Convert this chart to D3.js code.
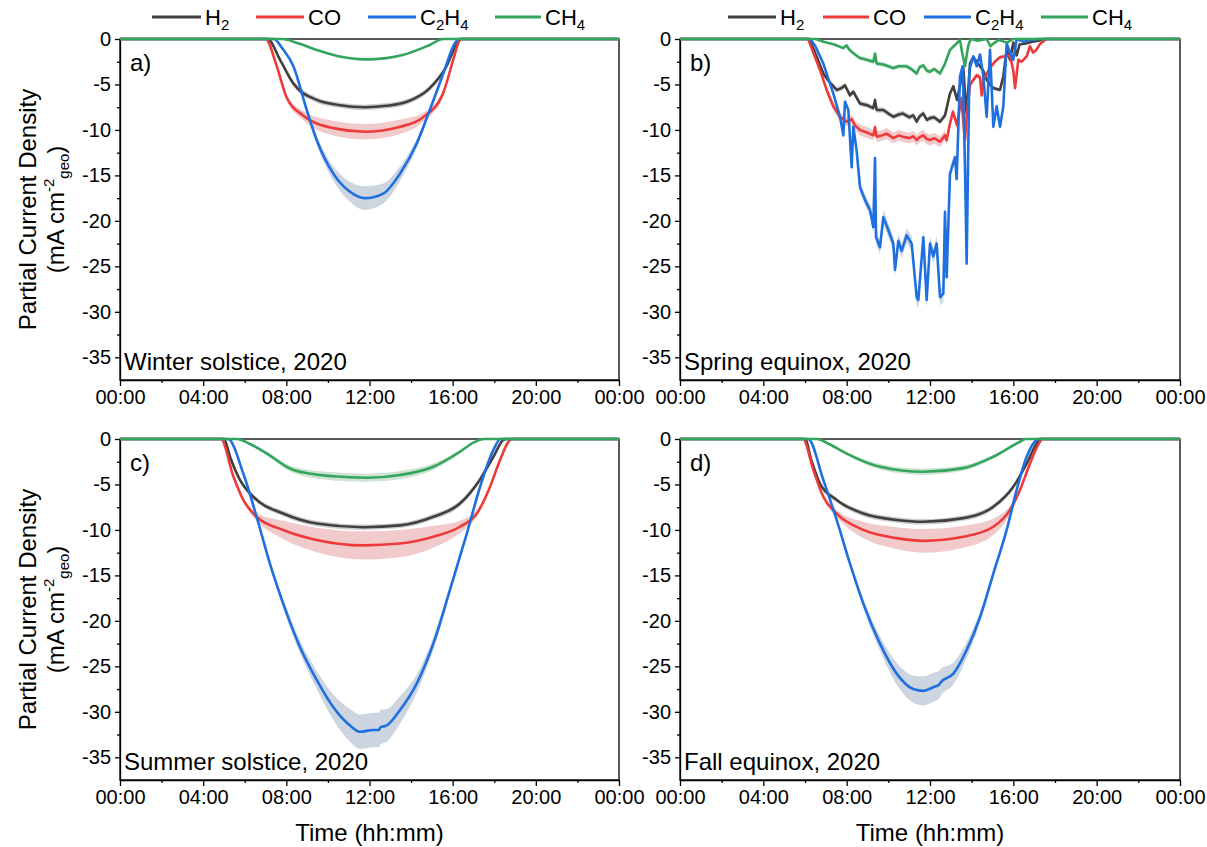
<!DOCTYPE html>
<html><head><meta charset="utf-8">
<script src="https://cdnjs.cloudflare.com/ajax/libs/d3/7.8.5/d3.min.js"></script>
<style>body{margin:0;background:#fff}svg{display:block;font-family:Arial,"Liberation Sans",sans-serif}</style>
</head><body><svg id="c" width="1207" height="847"></svg>
<script>
// ---------- DATA: [hour, mean (mA cm-2), sd] ----------
const species = ["H2","CO","C2H4","CH4"];
const xTickHours = [0,4,8,12,16,20,24];
const xTickLabels = ["00:00","04:00","08:00","12:00","16:00","20:00","00:00"];
const xMinorHours = [2,6,10,14,18,22];
const yTicks = [0,-5,-10,-15,-20,-25,-30,-35];
const yMinor = [-2.5,-7.5,-12.5,-17.5,-22.5,-27.5,-32.5];
const panelLetters = ["a)","b)","c)","d)"];
const panelTitles = ["Winter solstice, 2020","Spring equinox, 2020","Summer solstice, 2020","Fall equinox, 2020"];

// a) Winter solstice
const a_H2 = [[0,0,0],[7.1,0,0],[7.7,-2.3,0.15],[8.34,-4.9,0.3],[9.46,-6.7,0.3],[10.5,-7.25,0.3],[11.8,-7.5,0.3],[12.8,-7.35,0.3],[13.8,-6.9,0.3],[14.9,-5.4,0.3],[15.7,-3.0,0.2],[16.2,-0.5,0.1],[16.35,0,0],[24,0,0]];
const a_CO = [[0,0,0],[7.0,0,0],[7.54,-3.0,0.2],[8.0,-6.35,0.3],[8.8,-8.4,0.5],[10.26,-9.8,0.8],[11.78,-10.2,0.85],[13.47,-9.65,0.8],[14.58,-8.6,0.5],[15.55,-5.9,0.3],[16.0,-2.5,0.15],[16.3,-0.3,0.05],[16.4,0,0],[24,0,0]];
const a_C2H4 = [[0,0,0],[7.4,0,0],[7.8,-1.0,0.1],[8.34,-3.0,0.2],[8.98,-7.8,0.3],[9.46,-11.1,0.5],[10.26,-14.8,0.8],[11.06,-16.8,1.1],[11.78,-17.5,1.3],[12.66,-17.0,1.1],[13.47,-14.8,0.8],[14.27,-11.5,0.5],[14.9,-7.8,0.3],[15.55,-3.8,0.2],[16.1,-0.5,0.05],[16.3,0,0],[24,0,0]];
const a_CH4 = [[0,0,0],[7.8,0,0],[8.6,-0.5,0.05],[9.46,-1.2,0.1],[10.5,-1.9,0.12],[11.78,-2.24,0.12],[12.8,-2.1,0.12],[13.6,-1.76,0.1],[14.9,-0.66,0.05],[15.55,0,0],[24,0,0]];

// b) Spring equinox
const b_H2 = [[0,0,0],[6.2,0,0],[6.5,-1.6,0.2],[6.88,-3.8,0.3],[7.2,-4.8,0.3],[7.52,-5.6,0.3],[7.75,-5.4,0.3],[7.92,-5.1,0.3],[8.16,-6.2,0.3],[8.32,-5.8,0.3],[8.64,-7.1,0.3],[9.0,-7.3,0.3],[9.28,-7.6,0.3],[9.36,-6.7,0.3],[9.44,-7.8,0.3],[9.76,-7.8,0.3],[10.0,-8.2,0.3],[10.24,-8.55,0.3],[10.5,-8.3,0.3],[10.7,-8.2,0.3],[11.0,-8.6,0.3],[11.2,-8.4,0.3],[11.36,-9.1,0.3],[11.5,-8.5,0.3],[11.68,-8.2,0.3],[11.85,-8.9,0.3],[12.0,-8.7,0.3],[12.2,-8.6,0.3],[12.48,-9.1,0.3],[12.72,-8.4,0.3],[12.96,-6.0,0.3],[13.12,-5.2,0.3],[13.3,-6.7,0.3],[13.45,-5.0,0.3],[13.6,-3.2,0.2],[13.68,-6.0,0.3],[13.76,-8.2,0.3],[13.92,-2.7,0.2],[14.08,-2.0,0.2],[14.24,-2.5,0.2],[14.4,-3.0,0.2],[14.56,-3.5,0.2],[14.72,-4.5,0.2],[14.88,-5.0,0.2],[15.04,-5.4,0.2],[15.2,-5.5,0.2],[15.36,-5.6,0.2],[15.52,-4.1,0.2],[15.68,-1.2,0.1],[15.84,-2.3,0.1],[16.0,-0.4,0.1],[16.16,-1.8,0.1],[16.3,-0.6,0.1],[16.6,-0.5,0.05],[16.9,-0.3,0.05],[17.2,-0.2,0],[17.5,0,0],[24,0,0]];
const b_CO = [[0,0,0],[6.15,0,0],[6.4,-1.5,0.2],[6.72,-3.4,0.3],[7.04,-5.6,0.4],[7.36,-7.4,0.5],[7.68,-8.55,0.5],[8.0,-9.1,0.5],[8.24,-8.8,0.5],[8.4,-9.5,0.5],[8.64,-10.0,0.6],[9.0,-10.3,0.6],[9.28,-10.6,0.6],[9.36,-9.7,0.6],[9.44,-10.75,0.6],[9.7,-10.6,0.6],[9.92,-10.4,0.6],[10.24,-10.9,0.6],[10.5,-10.6,0.6],[10.7,-10.75,0.6],[11.0,-10.9,0.6],[11.2,-10.7,0.6],[11.36,-11.1,0.6],[11.5,-10.8,0.6],[11.68,-10.6,0.6],[11.85,-11.0,0.6],[12.0,-11.1,0.6],[12.2,-10.9,0.6],[12.48,-11.3,0.6],[12.72,-10.6,0.6],[12.8,-11.1,0.5],[12.96,-9.3,0.4],[13.1,-8.0,0.4],[13.3,-9.5,0.4],[13.5,-6.5,0.3],[13.6,-9.0,0.3],[13.68,-11.1,0.3],[13.76,-8.5,0.3],[13.92,-5.0,0.3],[14.08,-4.5,0.3],[14.24,-4.0,0.3],[14.4,-4.2,0.3],[14.48,-6.2,0.3],[14.56,-4.5,0.3],[14.72,-3.8,0.3],[14.88,-3.2,0.2],[15.04,-2.7,0.2],[15.2,-2.3,0.2],[15.36,-2.0,0.2],[15.6,-1.9,0.2],[15.84,-1.8,0.2],[16.0,-3.5,0.2],[16.08,-5.4,0.2],[16.24,-2.3,0.2],[16.4,-2.5,0.2],[16.64,-1.9,0.1],[16.8,-0.8,0.1],[16.95,-1.5,0.1],[17.1,-1.2,0.1],[17.3,-0.5,0.05],[17.6,0,0],[24,0,0]];
const b_C2H4 = [[0,0,0],[6.25,0,0],[6.5,-0.8,0.1],[6.88,-2.7,0.2],[7.36,-6.0,0.3],[7.68,-8.55,0.4],[7.84,-10.6,0.4],[7.92,-6.9,0.4],[8.08,-7.8,0.4],[8.24,-14.1,0.5],[8.32,-9.65,0.5],[8.48,-12.3,0.5],[8.64,-16.3,0.6],[8.9,-17.8,0.6],[9.12,-18.8,0.7],[9.28,-20.7,0.7],[9.36,-13.1,0.7],[9.41,-21.8,0.8],[9.6,-22.9,0.8],[9.76,-19.6,0.8],[10.0,-21.0,0.8],[10.24,-22.5,0.8],[10.32,-25.4,0.8],[10.48,-22.2,0.8],[10.64,-23.3,0.8],[10.88,-21.6,0.8],[11.12,-22.5,0.8],[11.36,-28.4,0.9],[11.44,-28.7,0.9],[11.68,-21.8,0.8],[11.84,-28.7,0.9],[12.0,-22.5,0.8],[12.16,-23.9,0.8],[12.32,-22.5,0.8],[12.48,-28.4,0.9],[12.64,-28.0,0.9],[12.72,-19.0,0.7],[12.8,-26.2,0.8],[12.96,-14.8,0.6],[13.2,-13.0,0.5],[13.28,-15.4,0.5],[13.44,-4.1,0.3],[13.57,-3.0,0.3],[13.68,-14.1,0.5],[13.76,-24.7,0.7],[13.89,-3.4,0.3],[14.08,-1.9,0.2],[14.24,-3.0,0.2],[14.4,-1.7,0.2],[14.56,-4.1,0.3],[14.72,-8.55,0.4],[14.88,-1.2,0.2],[15.04,-9.65,0.4],[15.2,-7.4,0.4],[15.36,-9.65,0.4],[15.52,-7.4,0.3],[15.68,-0.5,0.1],[15.84,-1.5,0.1],[16.0,-2.3,0.1],[16.16,0,0],[16.5,-0.3,0],[16.8,-0.1,0],[17.2,0,0],[24,0,0]];
const b_CH4 = [[0,0,0],[6.5,0,0],[6.9,-0.3,0.05],[7.4,-0.6,0.1],[7.84,-1.0,0.15],[8.0,-0.7,0.15],[8.1,-1.1,0.15],[8.24,-1.4,0.2],[8.4,-1.7,0.2],[8.64,-2.1,0.2],[9.0,-2.3,0.25],[9.28,-2.5,0.25],[9.36,-1.6,0.25],[9.44,-2.7,0.25],[9.76,-2.8,0.25],[10.0,-3.0,0.25],[10.24,-3.2,0.25],[10.5,-3.0,0.25],[10.88,-3.0,0.25],[11.1,-3.3,0.25],[11.36,-3.8,0.25],[11.5,-3.1,0.25],[11.68,-2.9,0.25],[11.85,-3.5,0.25],[12.0,-3.6,0.25],[12.2,-3.3,0.25],[12.48,-3.8,0.25],[12.72,-2.7,0.2],[12.96,-1.2,0.15],[13.2,-0.66,0.1],[13.44,-0.1,0.05],[13.55,-1.6,0.1],[13.68,-3.0,0.15],[13.83,-0.8,0.1],[13.95,0,0],[14.3,-0.2,0],[14.72,0,0],[14.9,-0.8,0.05],[15.04,-0.5,0.05],[15.3,-0.1,0],[15.7,-0.4,0],[16.0,0,0],[24,0,0]];

// c) Summer solstice
const c_H2 = [[0,0,0],[5.0,0,0],[5.3,-2.0,0.1],[5.77,-4.5,0.2],[6.41,-6.35,0.25],[7.85,-8.2,0.3],[9.46,-9.3,0.3],[11.7,-9.7,0.3],[13.47,-9.5,0.3],[15.07,-8.55,0.3],[16.35,-7.1,0.3],[17.3,-4.5,0.25],[17.96,-1.95,0.15],[18.44,-0.1,0.05],[18.55,0,0],[24,0,0]];
const c_CO = [[0,0,0],[4.85,0,0],[5.45,-4.1,0.15],[5.93,-6.7,0.25],[6.57,-8.55,0.45],[7.85,-10.0,1.0],[9.46,-11.1,1.35],[11.7,-11.7,1.55],[13.47,-11.5,1.5],[15.07,-10.75,1.2],[16.35,-9.65,0.7],[17.16,-8.2,0.35],[17.8,-5.25,0.2],[18.28,-2.3,0.1],[18.76,-0.1,0],[18.85,0,0],[24,0,0]];
const c_C2H4 = [[0,0,0],[5.2,0,0],[5.93,-3.8,0.1],[6.57,-8.55,0.2],[7.21,-13.7,0.3],[7.85,-18.1,0.5],[8.66,-22.9,0.7],[9.46,-26.5,1.0],[10.26,-29.5,1.4],[11.06,-31.5,1.8],[11.54,-32.2,1.9],[12.18,-32.0,1.9],[12.45,-32.0,1.9],[12.52,-31.7,1.9],[12.83,-31.5,1.8],[13.47,-29.8,1.5],[14.27,-26.9,1.0],[15.07,-22.5,0.7],[15.87,-16.6,0.5],[16.68,-10.4,0.3],[17.32,-5.25,0.2],[17.96,-1.2,0.05],[18.3,0,0],[24,0,0]];
const c_CH4 = [[0,0,0],[5.6,0,0],[6.3,-0.6,0.1],[7.06,-1.6,0.2],[8.34,-3.4,0.35],[10.26,-4.1,0.45],[11.87,-4.26,0.45],[13.47,-3.96,0.45],[15.07,-3.05,0.35],[16.35,-1.4,0.2],[17.0,-0.4,0.05],[17.5,0,0],[24,0,0]];

// d) Fall equinox
const d_H2 = [[0,0,0],[6.0,0,0],[6.3,-2.3,0.1],[6.72,-4.9,0.2],[7.52,-6.7,0.25],[8.8,-8.2,0.3],[10.4,-8.9,0.3],[11.68,-9.1,0.3],[13.6,-8.7,0.3],[15.04,-7.45,0.3],[16.0,-5.25,0.25],[16.64,-2.7,0.15],[17.12,-0.5,0.05],[17.3,0,0],[24,0,0]];
const d_CO = [[0,0,0],[5.9,0,0],[6.4,-3.4,0.15],[6.88,-6.35,0.25],[7.52,-8.2,0.4],[8.8,-10.0,0.9],[10.4,-10.9,1.2],[11.68,-11.2,1.3],[13.6,-10.75,1.2],[15.04,-9.65,0.9],[15.84,-7.8,0.5],[16.32,-5.6,0.3],[16.8,-2.7,0.15],[17.28,-0.3,0],[17.4,0,0],[24,0,0]];
const d_C2H4 = [[0,0,0],[6.15,0,0],[6.88,-4.5,0.1],[7.52,-8.9,0.2],[8.16,-13.7,0.3],[8.8,-18.1,0.5],[9.6,-22.5,0.8],[10.4,-25.8,1.2],[11.2,-27.5,1.5],[11.68,-27.7,1.6],[12.16,-27.3,1.6],[12.45,-27.0,1.5],[12.5,-26.8,1.5],[13.12,-25.8,1.2],[13.76,-23.2,0.9],[14.4,-19.6,0.6],[15.04,-14.8,0.4],[15.68,-10.0,0.3],[16.16,-5.6,0.2],[16.64,-1.95,0.1],[17.12,-0.1,0],[17.2,0,0],[24,0,0]];
const d_CH4 = [[0,0,0],[6.55,0,0],[7.2,-0.6,0.05],[8.0,-1.6,0.15],[9.6,-3.05,0.3],[11.68,-3.6,0.35],[13.6,-3.2,0.3],[15.04,-1.95,0.2],[16.32,-0.3,0.05],[16.6,0,0],[24,0,0]];

// ---------- STYLE / LAYOUT ----------
const colors = {H2:"#404040",CO:"#ee3a3a",C2H4:"#1e6fdf",CH4:"#33a65c"};
const bandColors = {H2:"#b9b9b9",CO:"#f1cbcb",C2H4:"#cdd5e1",CH4:"#cfe2d4"};
const bandOpacity = {H2:0.7,CO:1,C2H4:1,CH4:1};
const FONT = "Arial, 'Liberation Sans', sans-serif";

const svg = d3.select("#c");
const panels = [
  {data:{H2:a_H2,CO:a_CO,C2H4:a_C2H4,CH4:a_CH4}, L:120,R:619,T:39,B:380, smooth:true},
  {data:{H2:b_H2,CO:b_CO,C2H4:b_C2H4,CH4:b_CH4}, L:680,R:1180,T:39,B:380, smooth:false},
  {data:{H2:c_H2,CO:c_CO,C2H4:c_C2H4,CH4:c_CH4}, L:120,R:619,T:439,B:780, smooth:true},
  {data:{H2:d_H2,CO:d_CO,C2H4:d_C2H4,CH4:d_CH4}, L:680,R:1180,T:439,B:780, smooth:true}
];

panels.forEach((p,i)=>{
  const x = d3.scaleLinear([0,24],[p.L,p.R]);
  const y = d3.scaleLinear([-37.5,0],[p.B,p.T]);
  const g = svg.append("g");
  const curve = p.smooth ? d3.curveMonotoneX : d3.curveLinear;

  g.append("rect").attr("x",p.L).attr("y",p.T).attr("width",p.R-p.L).attr("height",p.B-p.T)
    .attr("fill","none").attr("stroke","#000").attr("stroke-width",1.3);

  const ax = g.append("g").attr("transform",`translate(0,${p.B})`)
    .call(d3.axisBottom(x).tickValues(xTickHours).tickFormat((d,k)=>xTickLabels[k]).tickSize(6).tickSizeOuter(0).tickPadding(4));
  ax.select(".domain").attr("stroke-width",1.3);
  ax.selectAll("line").attr("stroke-width",1.3);
  ax.selectAll("text").attr("font-size",20).attr("fill","#000").attr("font-family",FONT);
  g.append("g").attr("transform",`translate(0,${p.B})`)
    .call(d3.axisBottom(x).tickValues(xMinorHours).tickFormat("").tickSize(3).tickSizeOuter(0))
    .call(s=>s.select(".domain").remove()).selectAll("line").attr("stroke-width",1.3);

  const ay = g.append("g").attr("transform",`translate(${p.L},0)`)
    .call(d3.axisLeft(y).tickValues(yTicks).tickFormat(d=>String(d)).tickSize(5).tickSizeOuter(0).tickPadding(4));
  ay.select(".domain").attr("stroke-width",1.3);
  ay.selectAll("line").attr("stroke-width",1.3);
  ay.selectAll("text").attr("font-size",20).attr("fill","#000").attr("font-family",FONT);
  g.append("g").attr("transform",`translate(${p.L},0)`)
    .call(d3.axisLeft(y).tickValues(yMinor).tickFormat("").tickSize(3).tickSizeOuter(0))
    .call(s=>s.select(".domain").remove()).selectAll("line").attr("stroke-width",1.3);

  species.forEach(s=>{
    const area = d3.area().curve(curve).x(d=>x(d[0]))
      .y0(d=>y(d[1]-d[2])).y1(d=>y(Math.min(0,d[1]+d[2])));
    g.append("path").datum(p.data[s]).attr("d",area)
      .attr("fill",bandColors[s]).attr("opacity",bandOpacity[s]);
  });
  species.forEach(s=>{
    const line = d3.line().curve(curve).x(d=>x(d[0])).y(d=>y(d[1]));
    g.append("path").datum(p.data[s]).attr("d",line)
      .attr("fill","none").attr("stroke",colors[s]).attr("stroke-width",2.6)
      .attr("stroke-linejoin","round");
  });

  g.append("text").attr("x",p.L+10).attr("y",p.T+32).attr("font-size",24).text(panelLetters[i]);
  g.append("text").attr("x",p.L+4).attr("y",p.B-10).attr("font-size",24).text(panelTitles[i]);

  if(p.B===780){
    g.append("text").attr("x",(p.L+p.R)/2).attr("y",841).attr("text-anchor","middle")
      .attr("font-size",24).text("Time (hh:mm)");
  }
  if(p.L===120){
    const cy=(p.T+p.B)/2;
    g.append("text").attr("transform",`translate(36,${cy}) rotate(-90)`)
      .attr("text-anchor","middle").attr("font-size",24).text("Partial Current Density");
    const t2 = g.append("text").attr("transform",`translate(64,${cy}) rotate(-90)`)
      .attr("text-anchor","middle").attr("font-size",24);
    t2.append("tspan").text("(mA cm");
    t2.append("tspan").attr("font-size",15).attr("dy",-10).text("-2");
    t2.append("tspan").attr("font-size",15).attr("dy",15).text("geo");
    t2.append("tspan").attr("dy",-5).text(")");
  }
});

// legends
const legendRows = [
  {y:17, items:[[152,201],[256,304],[368,416],[495,541]]},
  {y:17, items:[[728,776],[823,869],[924,971],[1041,1088]]}
];
const legendNames = {H2:["H","2"],CO:["CO",""],C2H4:["C","2","H","4"],CH4:["CH","4"]};
legendRows.forEach(r=>{
  species.forEach((s,k)=>{
    const [a,b] = r.items[k];
    svg.append("line").attr("x1",a).attr("x2",b).attr("y1",r.y).attr("y2",r.y)
      .attr("stroke",colors[s]).attr("stroke-width",3.2);
    const t = svg.append("text").attr("x",b+4).attr("y",r.y+8).attr("font-size",22);
    legendNames[s].forEach((txt,j)=>{
      if(txt==="") return;
      const sub = j%2===1;
      t.append("tspan").attr("font-size",sub?15:22).attr("dy",sub?5:(j>0?-5:0)).text(txt);
    });
  });
});
</script></body></html>
